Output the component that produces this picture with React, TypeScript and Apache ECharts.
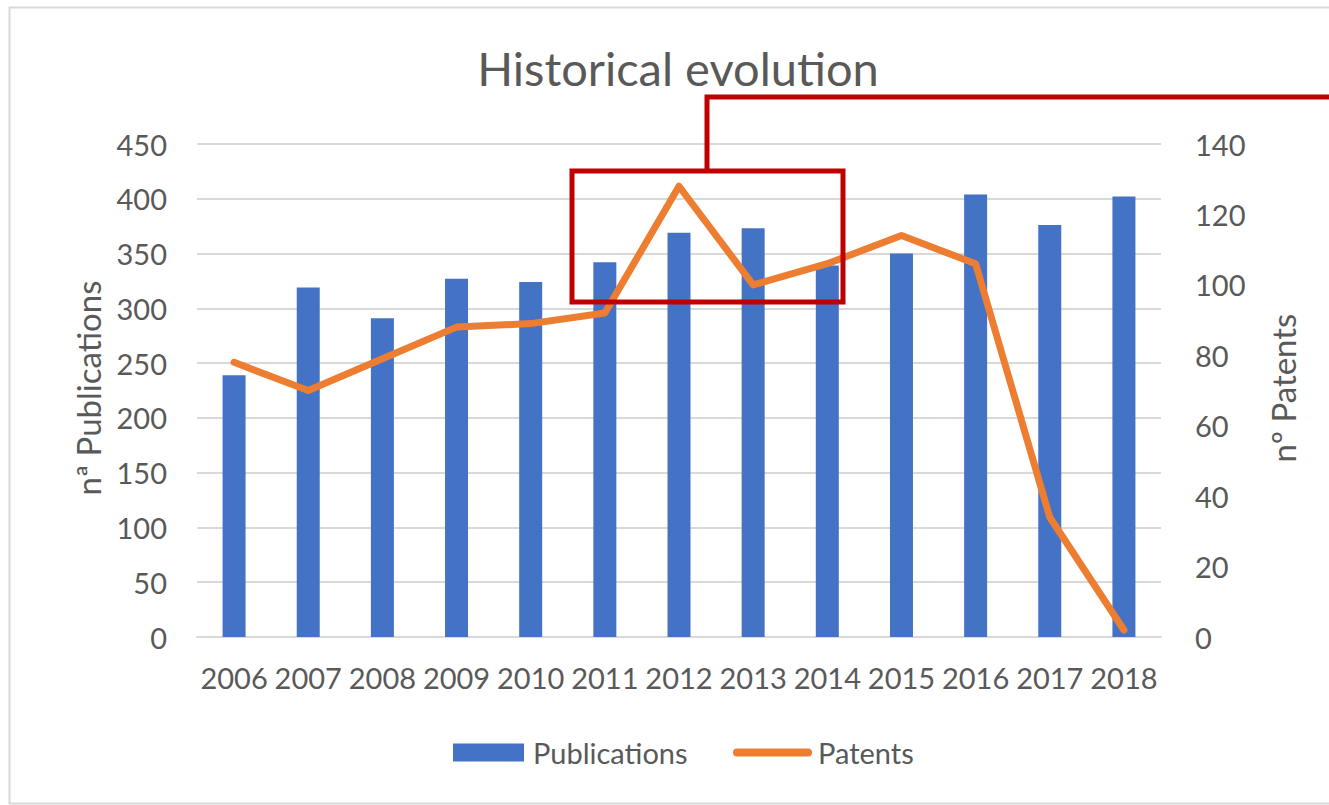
import React, { useEffect, useRef } from "react";
import * as echarts from "echarts";

const categories = ["2006", "2007", "2008", "2009", "2010", "2011", "2012", "2013", "2014", "2015", "2016", "2017", "2018"];
const publications = [239, 319, 291, 327, 324, 342, 369, 373, 339, 350, 404, 376, 402];
const patents = [78, 70, 79, 88, 89, 92, 128, 100, 106, 114, 106, 34, 2];
const leftAxis = { min: 0, max: 450, interval: 50 };
const rightAxis = { min: 0, max: 140, interval: 20 };
const titleText = "Historical evolution";
const leftName = "nª Publications";
const rightName = "nº Patents";

const FONT = "Lato, 'Noto Sans', sans-serif";
const GRAY = "#595959";
const GRID = "#d9d9d9";
const RED = "#C00000";

export default function App() {
  const ref = useRef<HTMLDivElement>(null);
  useEffect(() => {
    if (!ref.current) return;
    const chart = echarts.init(ref.current, undefined, { renderer: "svg" });
    chart.setOption({
      animation: false,
      backgroundColor: "#fff",
      textStyle: { fontFamily: FONT, color: GRAY },
      grid: { left: 197, right: 168, top: 144, bottom: 168, containLabel: false },
      xAxis: {
        type: "category",
        data: categories,
        axisLine: { show: true, lineStyle: { color: GRID, width: 2 } },
        axisTick: { show: false },
        axisLabel: { color: GRAY, fontSize: 29, fontFamily: FONT, margin: 26, interval: 0 },
      },
      yAxis: [
        {
          type: "value",
          ...leftAxis,
          axisLine: { show: false },
          axisTick: { show: false },
          splitLine: { show: true, lineStyle: { color: GRID, width: 2 } },
          axisLabel: { color: GRAY, fontSize: 29, fontFamily: FONT, margin: 30 },
        },
        {
          type: "value",
          ...rightAxis,
          position: "right",
          axisLine: { show: false },
          axisTick: { show: false },
          splitLine: { show: false },
          axisLabel: { color: GRAY, fontSize: 29, fontFamily: FONT, margin: 34 },
        },
      ],
      legend: [
        {
          data: [{ name: "Publications", icon: "rect" }],
          left: 453,
          top: 738,
          padding: 0,
          itemWidth: 71,
          itemHeight: 18,
          textStyle: { color: GRAY, fontSize: 29, fontFamily: FONT, padding: [0, 0, 0, 4] },
        },
        {
          data: [{ name: "Patents", icon: "path://M4,0 L75,0 A4,4 0 0 1 75,8 L4,8 A4,4 0 0 1 4,0 Z" }],
          left: 733,
          top: 738,
          padding: 0,
          itemWidth: 79,
          itemHeight: 8,
          textStyle: { color: GRAY, fontSize: 29, fontFamily: FONT, padding: [0, 0, 0, 1] },
        },
      ],
      series: [
        {
          name: "Publications",
          type: "bar",
          data: publications,
          barWidth: 23,
          yAxisIndex: 0,
          itemStyle: { color: "#4472C4" },
        },
        {
          name: "Patents",
          type: "line",
          data: patents,
          yAxisIndex: 1,
          symbol: "none",
          z: 3,
          itemStyle: { color: "#ED7D31" },
          lineStyle: { color: "#ED7D31", width: 7, cap: "round", join: "round" },
        },
      ],
      graphic: [
        {
          type: "rect",
          shape: { x: 9.5, y: 7.5, width: 1340, height: 796 },
          style: { fill: "none", stroke: GRID, lineWidth: 2 },
          z: -1,
          silent: true,
        },
        {
          type: "text",
          x: 678,
          y: 68,
          style: { text: titleText, fill: GRAY, font: `47px ${FONT}`, textAlign: "center", textVerticalAlign: "middle" },
        },
        {
          type: "text",
          x: 88,
          y: 388,
          rotation: Math.PI / 2,
          style: { text: leftName, fill: GRAY, font: `33px ${FONT}`, textAlign: "center", textVerticalAlign: "middle" },
        },
        {
          type: "text",
          x: 1283,
          y: 388,
          rotation: Math.PI / 2,
          style: { text: rightName, fill: GRAY, font: `33px ${FONT}`, textAlign: "center", textVerticalAlign: "middle" },
        },
        {
          type: "rect",
          shape: { x: 572, y: 171, width: 271, height: 131 },
          style: { fill: "none", stroke: RED, lineWidth: 5 },
          z: 100,
        },
        {
          type: "polyline",
          shape: { points: [[707, 171], [707, 97], [1335, 97]] },
          style: { fill: "none", stroke: RED, lineWidth: 5 },
          z: 100,
        },
      ],
    });
    return () => chart.dispose();
  }, []);
  return (
    <div
      ref={ref}
      style={{ position: "absolute", left: 0, top: 0, width: 1329, height: 805, background: "#fff" }}
    />
  );
}
